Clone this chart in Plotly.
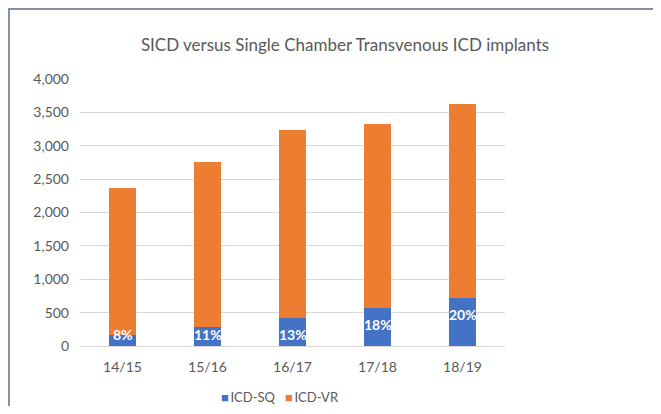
import plotly.graph_objects as go

# ── Data ──────────────────────────────────────────────
years = ["14/15", "15/16", "16/17", "17/18", "18/19"]
icd_sq = [170, 285, 425, 570, 715]
icd_vr = [2190, 2465, 2805, 2750, 2915]
sq_share = ["8%", "11%", "13%", "18%", "20%"]
series_names = ["ICD-SQ", "ICD-VR"]

BLUE = "#4472C4"
ORANGE = "#ED7D31"
GREY_TEXT = "#595959"
GRID = "#D9D9D9"
FONT = "Lato, Open Sans, sans-serif"

# page body has an 8px margin, so the figure is drawn 8px in from the corner
OFF = 8
W, H = 661 - 2 * OFF, 414 - 2 * OFF
L, R, T, B = 72, 148, 71, 60
PW, PH = W - L - R, H - T - B


def px_x(p):
    return (p - L) / PW


def px_y(p):
    return (H - B - p) / PH


fig = go.Figure()
fig.add_trace(go.Bar(
    name=series_names[0], x=years, y=icd_sq,
    marker=dict(color=BLUE, line=dict(width=0)),
))
fig.add_trace(go.Bar(
    name=series_names[1], x=years, y=icd_vr,
    marker=dict(color=ORANGE, line=dict(width=0)),
))

# percentage labels near the top of the SQ segment
for yr, v, lab in zip(years, icd_sq, sq_share):
    fig.add_annotation(
        x=yr, y=max(v, 420), text=f"<b>{lab}</b>",
        yanchor="top", yshift=-6, showarrow=False,
        font=dict(family=FONT, size=14, color="white"),
    )

# compact Excel-style legend
legend_text = "&nbsp;&nbsp;&nbsp;".join(
    f"<span style='color:{c}'>■</span>&#8201;{n}"
    for c, n in zip([BLUE, ORANGE], series_names)
)
fig.add_annotation(
    xref="paper", yref="paper", x=px_x(272), y=px_y(389),
    xanchor="center", yanchor="middle", showarrow=False,
    text=legend_text, font=dict(family=FONT, size=13, color=GREY_TEXT),
)

# outer chart frame (top/left visible, rest cropped)
fig.add_shape(
    type="rect", xref="paper", yref="paper",
    x0=px_x(1), x1=px_x(W + 40), y0=px_y(H + 40), y1=px_y(1),
    line=dict(color="#8490A4", width=2), fillcolor="rgba(0,0,0,0)",
    layer="below",
)

fig.update_layout(
    width=W, height=H,
    margin=dict(l=L, r=R, t=T, b=B, autoexpand=False),
    paper_bgcolor="white",
    plot_bgcolor="white",
    barmode="stack",
    bargap=0.68,
    font=dict(family=FONT, color=GREY_TEXT, size=13),
    title=dict(
        text="SICD versus Single Chamber Transvenous ICD implants",
        x=337 / W, xanchor="center", y=1 - 37 / H, yanchor="middle",
        font=dict(family=FONT, size=17, color=GREY_TEXT),
    ),
    xaxis=dict(
        showgrid=False, showline=True, linecolor=GRID, linewidth=1,
        ticks="", ticklabelstandoff=8, tickfont=dict(size=14, color=GREY_TEXT),
    ),
    yaxis=dict(
        range=[0, 4000], dtick=500, tickformat=",",
        showgrid=True, gridcolor=GRID, gridwidth=1,
        zeroline=False, ticks="", ticklabelstandoff=10,
        tickfont=dict(size=14, color=GREY_TEXT),
    ),
    showlegend=False,
)

fig.write_html("out.html")
